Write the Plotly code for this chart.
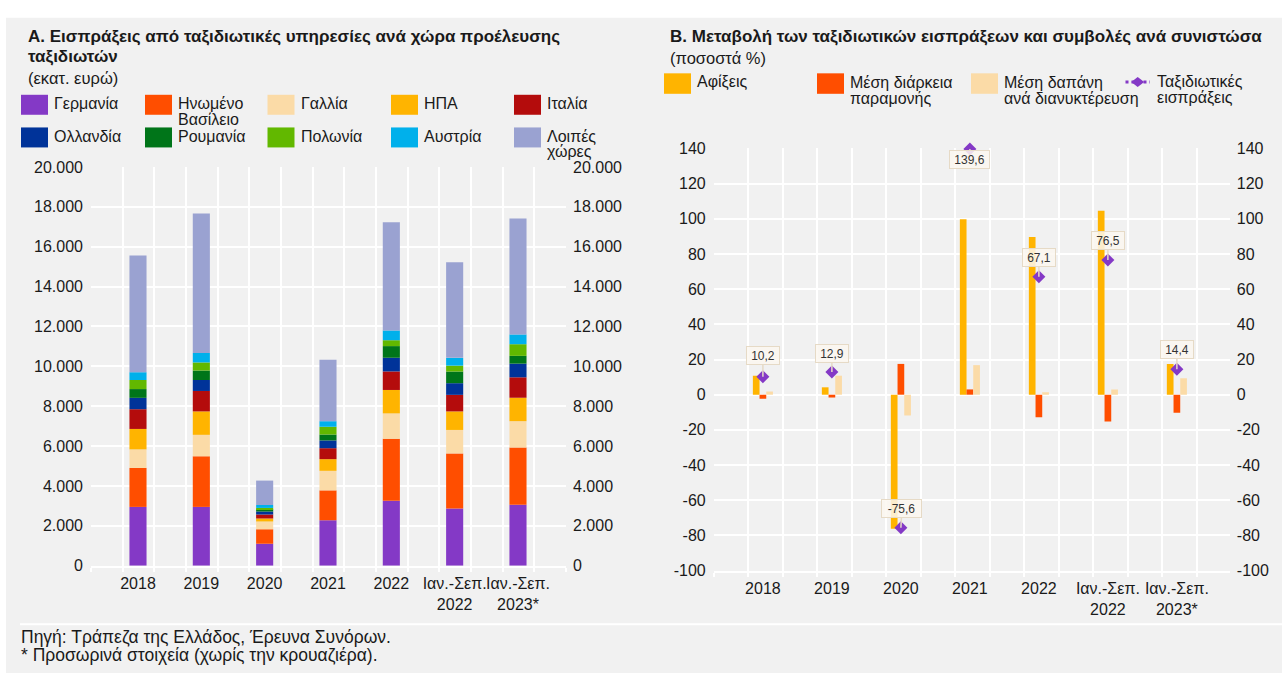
import plotly.graph_objects as go

W, H = 1282, 682
FONT = "Liberation Sans, Arial, sans-serif"
TXT = "#1a1a1a"

categories = ["2018", "2019", "2020", "2021", "2022",
              "Ιαν.-Σεπ.<br>2022", "Ιαν.-Σεπ.<br>2023*"]

# Panel A: travel receipts by country of origin (EUR millions)
germany     = [2950, 2950, 1105, 2280, 3255, 2865, 3060]
uk          = [1955, 2540,  720, 1500, 3115, 2770, 2870]
france      = [ 930, 1075,  390,  980, 1270, 1175, 1320]
usa         = [1025, 1175,  160,  585, 1175,  930, 1175]
italy       = [ 990, 1025,  195,  550,  930,  830, 1025]
netherlands = [ 570,  550,  145,  390,  685,  585,  685]
romania     = [ 440,  475,  100,  295,  585,  585,  390]
poland      = [ 455,  405,   85,  390,  295,  295,  585]
austria     = [ 390,  475,  145,  280,  490,  390,  490]
others      = [5855, 6990, 1225, 3080, 5425, 4790, 5820]

country_names = ["Γερμανία", "Ηνωμένο Βασίλειο", "Γαλλία", "ΗΠΑ", "Ιταλία",
                 "Ολλανδία", "Ρουμανία", "Πολωνία", "Αυστρία", "Λοιπές χώρες"]
country_values = [germany, uk, france, usa, italy,
                  netherlands, romania, poland, austria, others]

# Panel B: % change in travel receipts and contributions by component
arrivals        = [10.8, 4.2, -76.2, 99.8, 89.6, 104.5, 17.5]
stay_length     = [-2.3, -1.6, 17.5, 3.0, -12.8, -15.2, -10.2]
spend_per_night = [1.8, 10.8, -11.8, 16.8, 1.4, 3.0, 9.3]
receipts_change = [10.2, 12.9, -75.6, 139.6, 67.1, 76.5, 14.4]

component_lines = [["Αφίξεις"],
                   ["Μέση διάρκεια", "παραμονής"],
                   ["Μέση δαπάνη", "ανά διανυκτέρευση"],
                   ["Ταξιδιωτικές", "εισπράξεις"]]

left_ticks = list(range(0, 20001, 2000))
right_ticks = list(range(-100, 141, 20))
left_ticktext = [f"{v:,}".replace(",", ".") for v in left_ticks]
right_ticktext = [str(v) for v in right_ticks]

# ---- styling ----
country_colors = ["#8439C6", "#FF4E00", "#FBDBA7", "#FFB400", "#B40C0C",
                  "#003399", "#007519", "#62B800", "#00B0EB", "#9AA2D1"]
component_colors = ["#FFB400", "#FF4E00", "#FBDBA7"]
receipts_color = "#8439C6"
bg = "#F1F1F1"

idx = list(range(len(categories)))
left_range = [-0.742, 6.758]
right_range = [-0.713, 6.767]
left_grid = [left_range[0] + 0.5 * k for k in range(16)]
right_grid = [right_range[0] + 0.5 * k for k in range(16)]
bar_w = 0.097
bar_shifts = [-bar_w, 0.0, bar_w]
label_offsets = [(0, -21), (0, -19), (1, -19), (0, 10), (0, -19), (0, -20), (0, -20)]


def px(x):
    return x / W


def py(y):
    return 1 - y / H


fig = go.Figure()

for name, vals, color in zip(country_names, country_values, country_colors):
    fig.add_trace(go.Bar(x=idx, y=vals, name=name, width=0.27,
                         marker=dict(color=color, line_width=0),
                         xaxis="x", yaxis="y", hoverinfo="skip"))

for lines, vals, color, shift in zip(component_lines[:3],
                                     [arrivals, stay_length, spend_per_night],
                                     component_colors, bar_shifts):
    fig.add_trace(go.Bar(x=[i + shift for i in idx], y=vals, name=" ".join(lines),
                         width=bar_w, marker=dict(color=color, line_width=0),
                         xaxis="x2", yaxis="y3", hoverinfo="skip"))

fig.add_trace(go.Scatter(x=idx, y=receipts_change, mode="markers",
                         name=" ".join(component_lines[3]),
                         marker=dict(symbol="diamond", size=10, color=receipts_color),
                         cliponaxis=False, xaxis="x2", yaxis="y3", hoverinfo="skip"))

# empty traces so the mirrored value axes on the right are drawn
for xa, ya in (("x", "y2"), ("x2", "y4")):
    fig.add_trace(go.Scatter(x=[None], y=[None], mode="markers", xaxis=xa, yaxis=ya,
                             hoverinfo="skip", showlegend=False))

tickfont = dict(family=FONT, size=16, color=TXT)


def xaxis_cfg(domain, anchor, rng, grid):
    return dict(domain=domain, anchor=anchor, range=rng, tickmode="array",
                tickvals=idx, ticktext=categories, tickangle=0, showgrid=False,
                ticks="", showline=True, linecolor="white", linewidth=2,
                zeroline=False, tickfont=tickfont, fixedrange=True,
                ticklabelstandoff=2,
                minor=dict(tickmode="array", tickvals=grid, showgrid=True,
                           gridcolor="white", gridwidth=1.5, ticks="outside",
                           ticklen=4, tickcolor="white", tickwidth=1.5))


def yaxis_cfg(domain, anchor, rng, ticks, labels, **kw):
    d = dict(domain=domain, anchor=anchor, range=rng, tickmode="array",
             tickvals=ticks, ticktext=labels, showgrid=True, gridcolor="white",
             gridwidth=2, zeroline=False, showline=False, ticks="",
             tickfont=tickfont, fixedrange=True, ticklabelstandoff=7)
    d.update(kw)
    return d


left_dom = [1 - 572 / H, 1 - 163 / H]
right_dom = [1 - 577 / H, 1 - 144 / H]

fig.update_layout(
    width=W, height=H, margin=dict(l=0, r=0, t=0, b=0),
    paper_bgcolor="white", plot_bgcolor=bg,
    barmode="relative", showlegend=False,
    font=dict(family=FONT, color=TXT),
    xaxis=xaxis_cfg([px(91), px(566)], "y", left_range, left_grid),
    yaxis=yaxis_cfg(left_dom, "x", [0, 20000], left_ticks, left_ticktext),
    yaxis2=yaxis_cfg(left_dom, "x", [0, 20000], left_ticks, left_ticktext,
                     overlaying="y", side="right", showgrid=False, ticklabelstandoff=6),
    xaxis2=xaxis_cfg([px(713.7), px(1229.8)], "y3", right_range, right_grid),
    yaxis3=yaxis_cfg(right_dom, "x2", [-100, 140], right_ticks, right_ticktext),
    yaxis4=yaxis_cfg(right_dom, "x2", [-100, 140], right_ticks, right_ticktext,
                     overlaying="y3", side="right", showgrid=False, ticklabelstandoff=6),
)

shapes = [
    dict(type="rect", xref="paper", yref="paper", x0=px(6), x1=1, y0=0, y1=py(10),
         fillcolor=bg, line_width=0, layer="below"),
    dict(type="line", xref="paper", yref="paper", x0=px(20), x1=1, y0=py(632), y1=py(632),
         line=dict(color="white", width=2), layer="below"),
]
annotations = []


def text(x, y, s, size=16, bold=False):
    annotations.append(dict(xref="paper", yref="paper", x=px(x), y=py(y),
                            xanchor="left", yanchor="middle", showarrow=False,
                            text=f"<b>{s}</b>" if bold else s,
                            font=dict(family=FONT, size=size, color=TXT)))


# headings
text(25.5, 29, "Α. Εισπράξεις από ταξιδιωτικές υπηρεσίες ανά χώρα προέλευσης", 17, True)
text(25.5, 50, "ταξιδιωτών", 17, True)
text(25.5, 72, "(εκατ. ευρώ)", 16.5)
text(668, 29, "Β. Μεταβολή των ταξιδιωτικών εισπράξεων και συμβολές ανά συνιστώσα", 17, True)
text(668, 51, "(ποσοστά %)", 16.5)

# footer
text(19, 645, "Πηγή: Τράπεζα της Ελλάδος, Έρευνα Συνόρων.", 17.5)
text(19, 663.5, "* Προσωρινά στοιχεία (χωρίς την κρουαζιέρα).", 17.5)

# legend, panel A
left_cols = [21, 145, 267.5, 391, 514]
left_rows = [89, 122.5]
for k, (name, color) in enumerate(zip(country_names, country_colors)):
    r, c = divmod(k, 5)
    x0, y0 = left_cols[c], left_rows[r]
    shapes.append(dict(type="rect", xref="paper", yref="paper",
                       x0=px(x0), x1=px(x0 + 27), y0=py(y0), y1=py(y0 + 20.5),
                       fillcolor=color, line_width=0))
    for j, line in enumerate(name.split(" ")):
        text(x0 + 31, y0 + 9 + 16 * j, line, 16)

# legend, panel B
right_cols = [664, 817, 971]
for lines, color, x0 in zip(component_lines[:3], component_colors, right_cols):
    shapes.append(dict(type="rect", xref="paper", yref="paper",
                       x0=px(x0), x1=px(x0 + 27), y0=py(67), y1=py(88),
                       fillcolor=color, line_width=0))
    for j, line in enumerate(lines):
        text(x0 + 30.5, 76 + 16.5 * j, line, 16)
shapes.append(dict(type="line", xref="paper", yref="paper", x0=px(1125.5), x1=px(1150),
                   y0=py(76), y1=py(76), line=dict(color=receipts_color, width=3, dash="dot")))
shapes.append(dict(type="path", xref="paper", yref="paper", xsizemode="pixel",
                   ysizemode="pixel", xanchor=px(1137.7), yanchor=py(76),
                   path="M -6.5 0 L 0 5 L 6.5 0 L 0 -5 Z", fillcolor=receipts_color,
                   line_width=0))
for j, line in enumerate(component_lines[3]):
    text(1155, 76 + 16.5 * j, line, 16)

# value labels for travel receipts
for i, v in enumerate(receipts_change):
    ax, ay = label_offsets[i]
    label = f"{v:.1f}".replace(".", ",")
    annotations.append(dict(
        xref="x2", yref="y3", x=i, y=v, text=label,
        showarrow=True, arrowhead=0, arrowwidth=1.5, arrowcolor="#E6DAC6",
        ax=ax, ay=ay, standoff=0, width=7 * len(label), height=13,
        bgcolor="rgba(251,247,240,0.85)", bordercolor="#E6DAC6", borderwidth=1,
        borderpad=2, font=dict(family=FONT, size=12, color="#333333")))

fig.update_layout(shapes=shapes, annotations=annotations)
fig.write_html("out.html")
